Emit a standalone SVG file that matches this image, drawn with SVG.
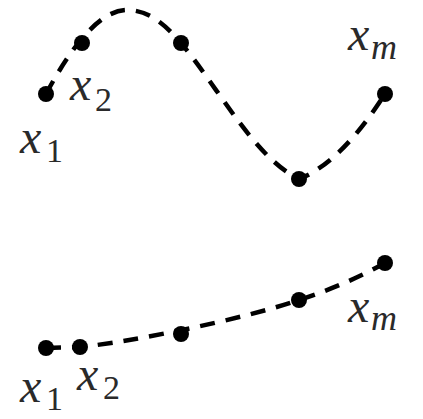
<svg xmlns="http://www.w3.org/2000/svg" width="423" height="419" viewBox="0 0 423 419">
<style>
.curve{fill:none;stroke:#000;stroke-width:4.5;stroke-dasharray:15 11}
.dot{fill:#000}
.lbl{font-family:'Liberation Serif','DejaVu Serif',serif;font-style:italic;font-size:48px;fill:#2a2a2a}
.sub{font-family:'Liberation Serif','DejaVu Serif',serif;font-size:34px;fill:#2a2a2a}
.subi{font-family:'Liberation Serif','DejaVu Serif',serif;font-style:italic;font-size:36px;fill:#2a2a2a}
</style>
<rect width="423" height="419" fill="#fff"/>
<g id="connectors">
<path class="curve" d="M46,94 C60,68 92,12 125,10 C150,9 168,28 181,43 C220,90 255,158 299,179 C335,165 365,125 385,94"/>
<path class="curve" d="M46,348 L80,347 C130,342 240,320 299,300 C330,290 360,277 385,263"/>
</g>
<g id="top-x1"><circle class="dot" cx="46" cy="94" r="8"/><text class="lbl" x="20" y="153">x</text><text class="sub" x="46" y="162">1</text></g>
<g id="top-x2"><circle class="dot" cx="82" cy="43" r="8"/><text class="lbl" x="70" y="100">x</text><text class="sub" x="95" y="111">2</text></g>
<g id="top-p3"><circle class="dot" cx="181" cy="43" r="8"/></g>
<g id="top-p4"><circle class="dot" cx="299" cy="179" r="8"/></g>
<g id="top-xm"><circle class="dot" cx="385" cy="94" r="8"/><text class="lbl" x="348" y="50">x</text><text class="subi" x="371" y="59">m</text></g>
<g id="bot-x1"><circle class="dot" cx="46" cy="348" r="8"/><text class="lbl" x="20" y="402">x</text><text class="sub" x="46" y="410">1</text></g>
<g id="bot-x2"><circle class="dot" cx="80" cy="347" r="8"/><text class="lbl" x="77" y="390">x</text><text class="sub" x="103" y="399">2</text></g>
<g id="bot-p3"><circle class="dot" cx="181" cy="334" r="8"/></g>
<g id="bot-p4"><circle class="dot" cx="299" cy="300" r="8"/></g>
<g id="bot-xm"><circle class="dot" cx="385" cy="263" r="8"/><text class="lbl" x="348" y="322">x</text><text class="subi" x="371" y="330">m</text></g>
</svg>
